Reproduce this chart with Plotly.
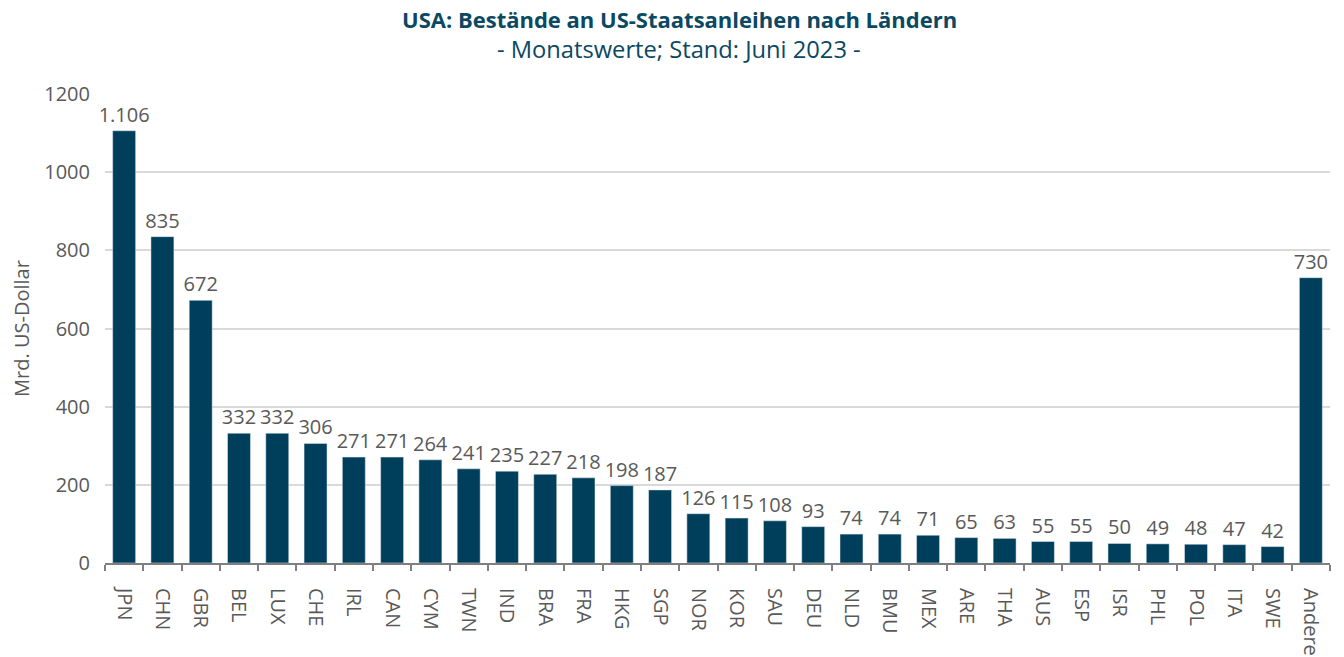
import plotly.graph_objects as go

countries = ["JPN", "CHN", "GBR", "BEL", "LUX", "CHE", "IRL", "CAN", "CYM", "TWN",
             "IND", "BRA", "FRA", "HKG", "SGP", "NOR", "KOR", "SAU", "DEU", "NLD",
             "BMU", "MEX", "ARE", "THA", "AUS", "ESP", "ISR", "PHL", "POL", "ITA",
             "SWE", "Andere"]
values = [1106, 835, 672, 332, 332, 306, 271, 271, 264, 241,
          235, 227, 218, 198, 187, 126, 115, 108, 93, 74,
          74, 71, 65, 63, 55, 55, 50, 49, 48, 47,
          42, 730]
yticks = [0, 200, 400, 600, 800, 1000, 1200]

FONT = "Open Sans"
GRAY = "#595959"
BAR = "#003F5C"
TITLE = "#0B4862"

fig = go.Figure(go.Bar(
    x=countries, y=values,
    marker_color=BAR,
    text=values,
    texttemplate="%{y:,.0f}",
    textposition="outside",
    constraintext="none",
    cliponaxis=False,
    textfont=dict(family=FONT, size=20, color=GRAY),
))

fig.update_layout(
    width=1344, height=657,
    paper_bgcolor="white", plot_bgcolor="white",
    separators=",.",
    margin=dict(l=97, r=22, t=86, b=102),
    bargap=0.4,
    showlegend=False,
    font=dict(family=FONT, color=GRAY),
)
TX = (679 - 105) / 1225
fig.add_annotation(text="<b>USA: Bestände an US-Staatsanleihen nach Ländern</b>",
                   xref="paper", yref="paper", x=TX, y=1, yshift=75,
                   xanchor="center", yanchor="middle", showarrow=False,
                   font=dict(family=FONT, size=22, color=TITLE))
fig.add_annotation(text="- Monatswerte; Stand: Juni 2023 -",
                   xref="paper", yref="paper", x=TX, y=1, yshift=45,
                   xanchor="center", yanchor="middle", showarrow=False,
                   font=dict(family=FONT, size=23.7, color=TITLE))

fig.update_xaxes(
    type="category", tickangle=90, automargin=False,
    tickfont=dict(family=FONT, size=20, color=GRAY),
    showline=True, linecolor="#7F7F7F", linewidth=2,
    ticks="outside", tickson="boundaries", ticklen=6, tickcolor="#7F7F7F", tickwidth=2,
    ticklabelstandoff=19,
    showgrid=False,
)
fig.update_yaxes(
    range=[0, 1200], tickvals=yticks, tickformat="d", automargin=False,
    tickfont=dict(family=FONT, size=20, color=GRAY),
    showgrid=True, gridcolor="#D9D9D9", gridwidth=1.5,
    zeroline=False, showline=False, ticks="", ticklabelstandoff=14,
    title=dict(text="Mrd. US-Dollar", font=dict(family=FONT, size=20, color=GRAY), standoff=22),
)

fig.write_html("out.html")
